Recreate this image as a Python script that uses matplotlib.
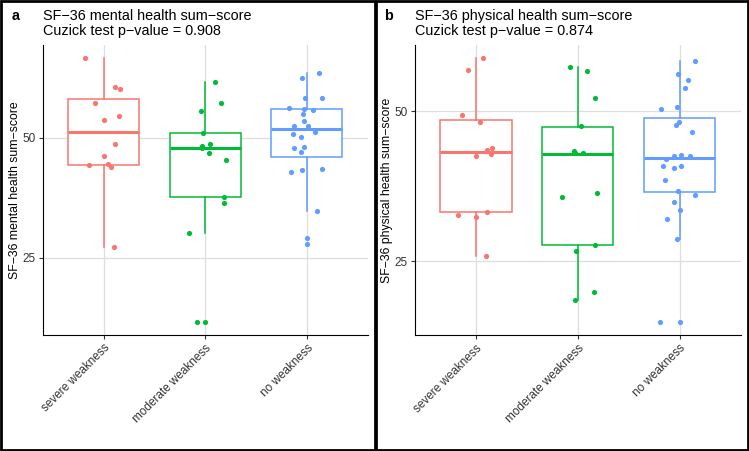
import matplotlib
matplotlib.use("Agg")
import matplotlib.pyplot as plt
from matplotlib.patches import Rectangle

plt.rcParams["font.family"] = ["Liberation Sans", "DejaVu Sans"]

groups = ["severe weakness", "moderate weakness", "no weakness"]
colors = ["#F8766D", "#00BA38", "#619CFF"]

# panel a: SF-36 mental health sum-score, points per group and their jitter (category units)
mental_severe = [66.8, 60.7, 60.2, 57.3, 53.8, 54.5, 48.7, 46.2, 44.4, 44.6, 43.9, 27.3]
mental_severe_dx = [-0.18, 0.11, 0.16, -0.09, 0.0, 0.15, 0.11, 0.0, -0.14, 0.04, 0.07, 0.10]
mental_moderate = [61.6, 57.3, 55.7, 51.0, 48.7, 48.4, 48.0, 46.8, 45.3, 37.7, 36.4, 30.1, 11.5, 11.5]
mental_moderate_dx = [0.10, 0.16, -0.04, -0.02, 0.05, -0.03, -0.03, 0.04, 0.20, 0.18, 0.18, -0.16, -0.08, 0.0]
mental_none = [63.5, 62.6, 58.3, 58.3, 56.3, 56.1, 55.9, 55.0, 53.5, 52.5, 52.5, 51.3,
               50.8, 50.1, 47.8, 48.1, 47.0, 42.8, 43.2, 43.6, 34.7, 29.0, 27.9]
mental_none_dx = [0.12, -0.05, -0.02, 0.15, -0.18, -0.03, 0.06, -0.04, -0.03, -0.13, 0.01, 0.08,
                  -0.14, -0.06, -0.13, -0.03, -0.06, -0.16, -0.05, 0.15, 0.10, 0.0, 0.0]
# box stats: whisker low, q1, median, q3, whisker high
mental_box = [[27.3, 44.4, 51.2, 58.1, 66.8],
              [30.1, 37.7, 48.0, 51.0, 61.6],
              [34.7, 46.1, 51.8, 56.1, 63.5]]

# panel b: SF-36 physical health sum-score
physical_severe = [58.9, 56.9, 49.3, 48.2, 43.6, 43.8, 42.6, 42.8, 32.8, 33.3, 32.4, 25.9]
physical_severe_dx = [0.07, -0.08, -0.14, 0.04, 0.11, 0.16, 0.0, 0.15, -0.18, 0.11, 0.0, 0.10]
physical_moderate = [57.3, 56.6, 52.2, 47.5, 43.4, 43.0, 43.0, 35.7, 36.3, 26.7, 27.7, 19.9, 18.6]
physical_moderate_dx = [-0.08, 0.09, 0.17, 0.03, -0.04, -0.03, 0.05, -0.15, 0.19, -0.02, 0.17, 0.16, -0.03]
physical_none = [58.3, 56.2, 55.1, 53.8, 50.4, 50.7, 47.7, 48.2, 46.5, 42.6, 42.0, 42.7, 42.5,
                 40.8, 40.6, 40.9, 38.6, 36.7, 36.1, 34.8, 33.5, 32.0, 28.8, 14.9, 14.9]
physical_none_dx = [0.15, -0.02, 0.08, 0.05, -0.18, -0.03, -0.04, -0.01, 0.12, -0.06, -0.13, 0.01, 0.10,
                    -0.16, -0.06, 0.01, -0.14, -0.02, 0.15, -0.06, 0.0, -0.12, -0.03, -0.19, 0.0]
physical_box = [[25.9, 33.2, 43.2, 48.5, 58.9],
                [18.6, 27.7, 42.9, 47.3, 57.3],
                [28.8, 36.5, 42.2, 48.8, 58.3]]

fig = plt.figure(figsize=(7.49, 4.51), dpi=100)


def draw_panel(ax, points, offsets, box, ylim, ylabel):
    stats = []
    for b in box:
        stats.append({"whislo": b[0], "q1": b[1], "med": b[2], "q3": b[3], "whishi": b[4]})
    parts = ax.bxp(stats, positions=[1, 2, 3], widths=0.7, showfliers=False, showcaps=False,
                   patch_artist=True)
    for i in range(3):
        c = colors[i]
        parts["boxes"][i].set(facecolor="white", edgecolor=c, linewidth=1.1, zorder=2)
        parts["medians"][i].set(color=c, linewidth=2.2, zorder=3)
        for w in parts["whiskers"][2 * i:2 * i + 2]:
            w.set(color=c, linewidth=1.1, zorder=2)
        xs = [i + 1 + d for d in offsets[i]]
        ax.scatter(xs, points[i], s=14, color=c, linewidths=0, zorder=4)

    ax.set_xlim(0.4, 3.6)
    ax.set_ylim(ylim)
    ax.set_yticks([25, 50])
    ax.set_xticks([1, 2, 3])
    ax.set_xticklabels(groups, rotation=45, ha="right", va="top", rotation_mode="anchor")
    ax.grid(True, color="#DEDEDE", linewidth=0.9, zorder=0)
    ax.set_axisbelow(True)
    for s in ["top", "right"]:
        ax.spines[s].set_visible(False)
    for s in ["left", "bottom"]:
        ax.spines[s].set_color("black")
        ax.spines[s].set_linewidth(0.8)
    ax.tick_params(axis="both", labelsize=8.5, labelcolor="#333333", color="#333333",
                   length=3, width=0.8, pad=2)
    ax.set_ylabel(ylabel, fontsize=8.8)


ax1 = fig.add_axes([0.057, 0.257, 0.434, 0.643])
draw_panel(ax1, [mental_severe, mental_moderate, mental_none],
           [mental_severe_dx, mental_moderate_dx, mental_none_dx],
           mental_box, (8.8, 69.4), "SF\u221236 mental health sum\u2212score")
ax1.yaxis.set_label_coords(-0.068, 0.5)

ax2 = fig.add_axes([0.5537, 0.2565, 0.4353, 0.6437])
draw_panel(ax2, [physical_severe, physical_moderate, physical_none],
           [physical_severe_dx, physical_moderate_dx, physical_none_dx],
           physical_box, (12.7, 61.0), "SF\u221236 physical health sum\u2212score")
ax2.yaxis.set_label_coords(-0.068, 0.5)

# panel titles
fig.text(0.015, 0.9557, "a", fontsize=10.4, fontweight="bold")
fig.text(0.057, 0.9557, "SF\u221236 mental health sum\u2212score", fontsize=10.4)
fig.text(0.057, 0.9213, "Cuzick test p\u2212value = 0.908", fontsize=10.4)
fig.text(0.5127, 0.9557, "b", fontsize=10.4, fontweight="bold")
fig.text(0.5537, 0.9557, "SF\u221236 physical health sum\u2212score", fontsize=10.4)
fig.text(0.5537, 0.9213, "Cuzick test p\u2212value = 0.874", fontsize=10.4)

# black frames round each panel
fig.patches.append(Rectangle((0.002, 0.003), 0.499, 0.994, transform=fig.transFigure,
                             fill=False, edgecolor="black", linewidth=2))
fig.patches.append(Rectangle((0.502, 0.003), 0.496, 0.994, transform=fig.transFigure,
                             fill=False, edgecolor="black", linewidth=2))

fig.savefig("out.png", dpi=100)
